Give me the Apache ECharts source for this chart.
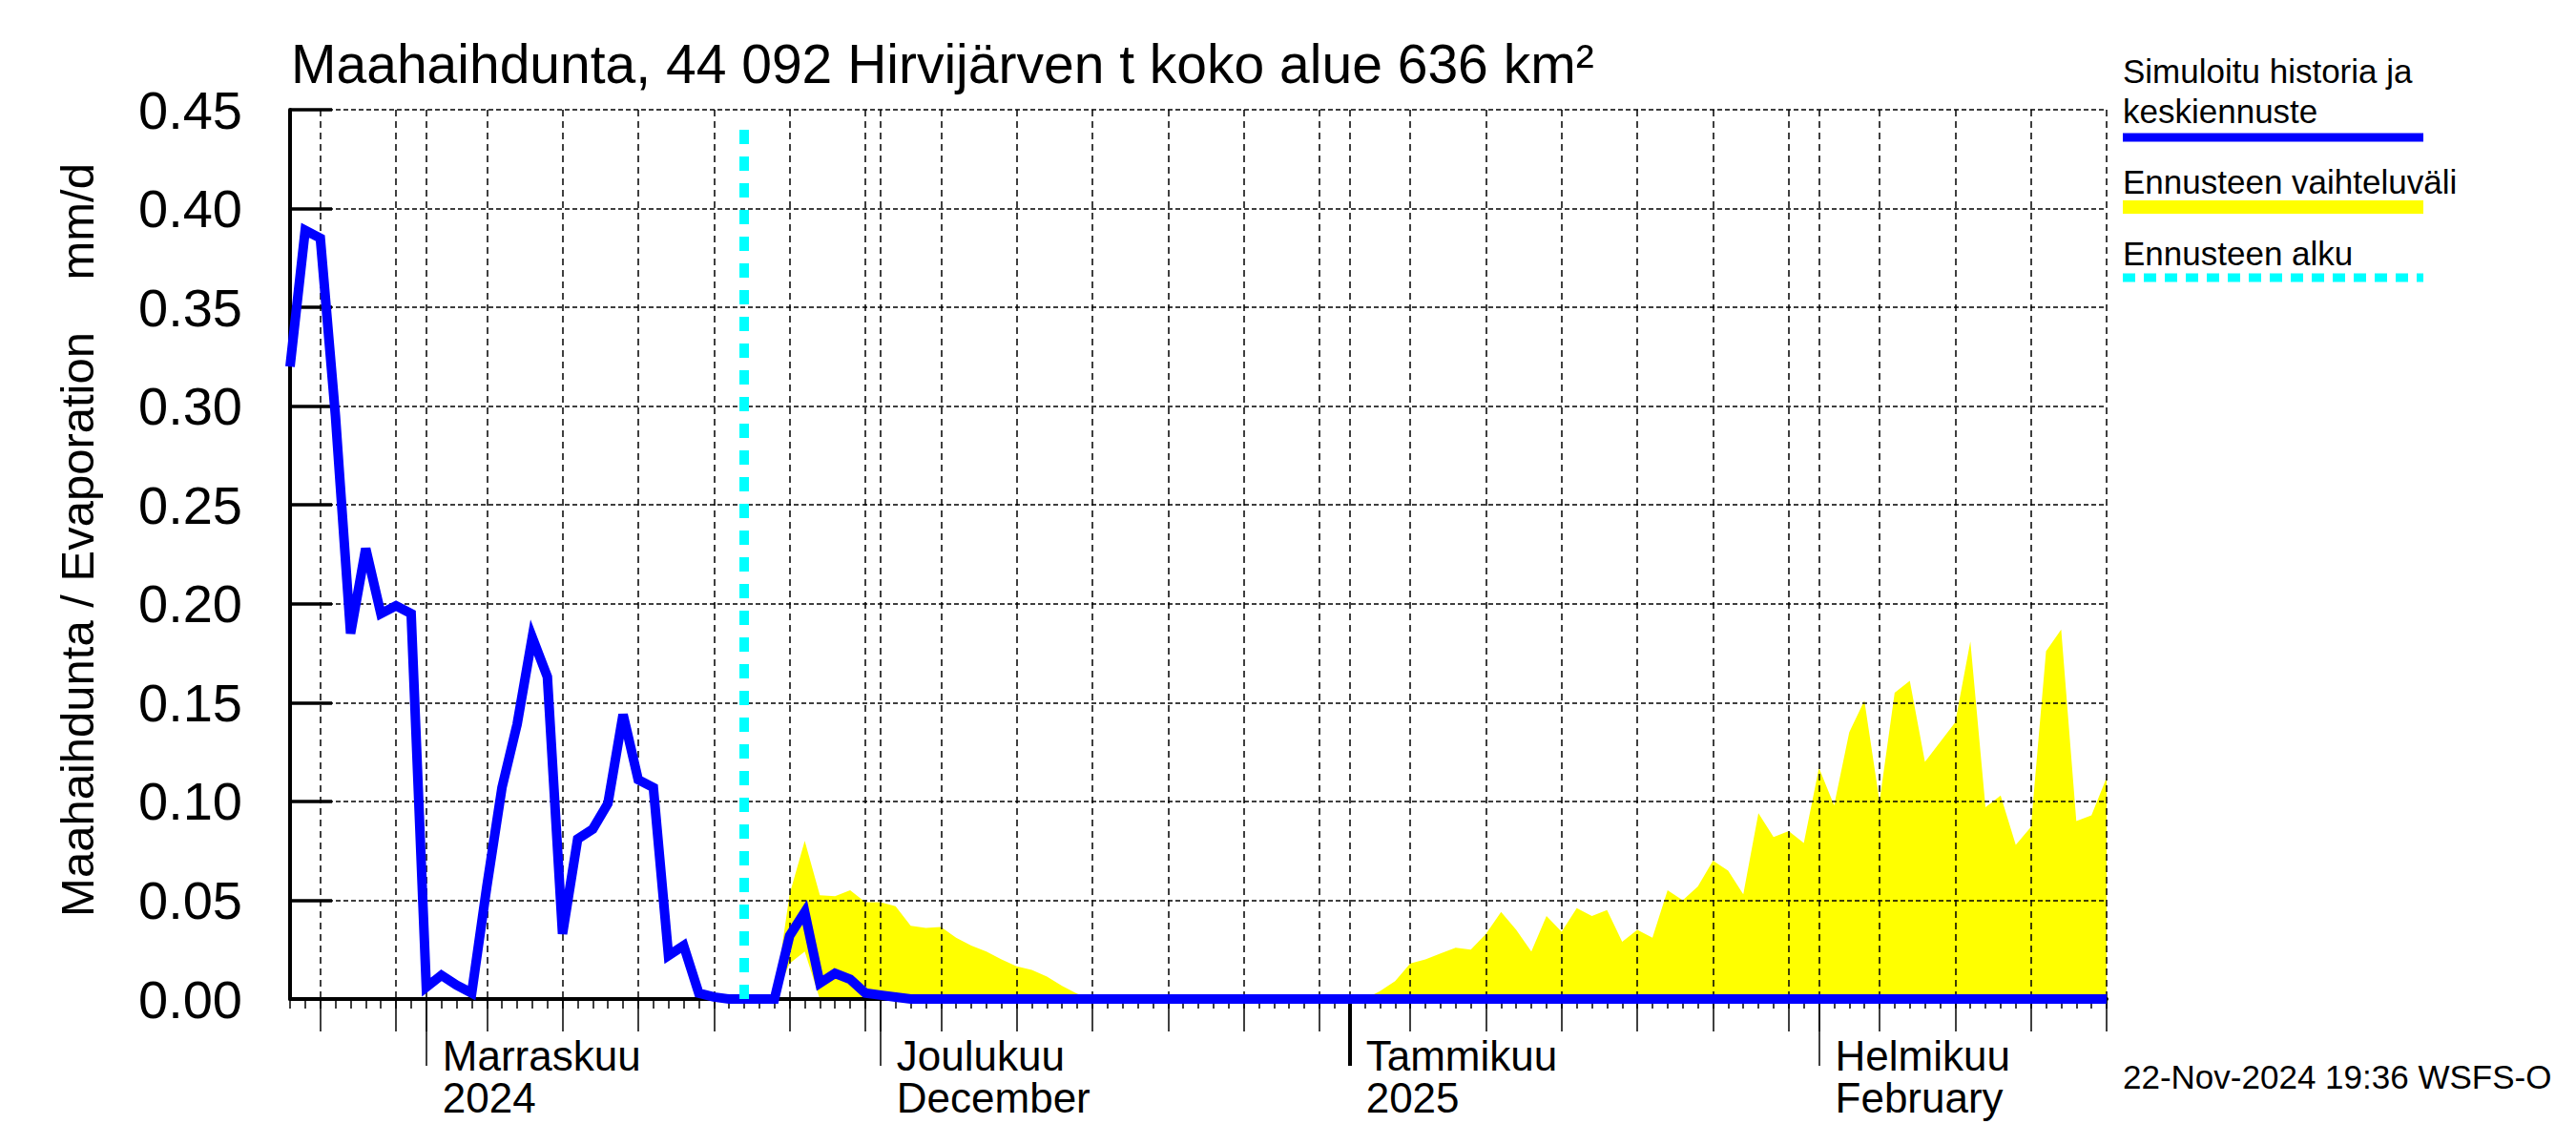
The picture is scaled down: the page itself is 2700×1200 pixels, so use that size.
<!DOCTYPE html>
<html>
<head>
<meta charset="utf-8">
<script src="https://cdn.jsdelivr.net/npm/echarts@6/dist/echarts.min.js"></script>
<style>
html,body{margin:0;padding:0;background:#fff;}
#chart{width:2700px;height:1200px;}
</style>
</head>
<body>
<div id="chart"></div>
<script>
// ---------------- data ----------------
const titleText = 'Maahaihdunta, 44 092 Hirvijärven t koko alue 636 km²';
const yAxisTitle = 'Maahaihdunta / Evaporation    mm/d';
const startDate = '2024-10-23';   // first day on the axis (day 0)
const endDate = '2025-02-20';     // last day on the axis
const forecastStart = '2024-11-22';
const stamp = '22-Nov-2024 19:36 WSFS-O';

// simulated history + median forecast, one value per day from startDate (d0..d120)
const evapValues = [
  0.320, 0.389, 0.385, 0.295, 0.185, 0.228, 0.195, 0.199, 0.195, 0.006,
  0.012, 0.007, 0.003, 0.057, 0.107, 0.139, 0.183, 0.163, 0.033, 0.081,
  0.086, 0.099, 0.144, 0.111, 0.107, 0.022, 0.027, 0.003, 0.001, 0.000,
  0.000, 0.000, 0.000, 0.032, 0.044, 0.008, 0.013, 0.010, 0.003, 0.002,
  0.001, 0.000, 0.000, 0.000, 0.000, 0.000, 0.000, 0.000, 0.000, 0.000,
  0.000, 0.000, 0.000, 0.000, 0.000, 0.000, 0.000, 0.000, 0.000, 0.000,
  0.000, 0.000, 0.000, 0.000, 0.000, 0.000, 0.000, 0.000, 0.000, 0.000,
  0.000, 0.000, 0.000, 0.000, 0.000, 0.000, 0.000, 0.000, 0.000, 0.000,
  0.000, 0.000, 0.000, 0.000, 0.000, 0.000, 0.000, 0.000, 0.000, 0.000,
  0.000, 0.000, 0.000, 0.000, 0.000, 0.000, 0.000, 0.000, 0.000, 0.000,
  0.000, 0.000, 0.000, 0.000, 0.000, 0.000, 0.000, 0.000, 0.000, 0.000,
  0.000, 0.000, 0.000, 0.000, 0.000, 0.000, 0.000, 0.000, 0.000, 0.000,
  0.000
];

// forecast range, one value per day from forecastStart (d30..d120)
const bandLower = [
  0.000, 0.000, 0.000, 0.018, 0.024, 0.000, 0.000, 0.000, 0.000, 0.000,
  0.000, 0.000, 0.000, 0.000, 0.000, 0.000, 0.000, 0.000, 0.000, 0.000,
  0.000, 0.000, 0.000, 0.000, 0.000, 0.000, 0.000, 0.000, 0.000, 0.000,
  0.000, 0.000, 0.000, 0.000, 0.000, 0.000, 0.000, 0.000, 0.000, 0.000,
  0.000, 0.000, 0.000, 0.000, 0.000, 0.000, 0.000, 0.000, 0.000, 0.000,
  0.000, 0.000, 0.000, 0.000, 0.000, 0.000, 0.000, 0.000, 0.000, 0.000,
  0.000, 0.000, 0.000, 0.000, 0.000, 0.000, 0.000, 0.000, 0.000, 0.000,
  0.000, 0.000, 0.000, 0.000, 0.000, 0.000, 0.000, 0.000, 0.000, 0.000,
  0.000, 0.000, 0.000, 0.000, 0.000, 0.000, 0.000, 0.000, 0.000, 0.000,
  0.000
];
const bandUpper = [
  0.000, 0.000, 0.000, 0.053, 0.080, 0.0525, 0.052, 0.055, 0.049, 0.049,
  0.047, 0.037, 0.036, 0.0365, 0.031, 0.027, 0.024, 0.020, 0.0165, 0.0147,
  0.0114, 0.0066, 0.0026, 0.000, 0.000, 0.000, 0.000, 0.000, 0.000, 0.000,
  0.000, 0.000, 0.000, 0.000, 0.000, 0.000, 0.000, 0.000, 0.000, 0.000,
  0.000, 0.000, 0.004, 0.009, 0.018, 0.020, 0.023, 0.026, 0.025, 0.033,
  0.044, 0.035, 0.024, 0.042, 0.034, 0.046, 0.042, 0.045, 0.029, 0.035,
  0.031, 0.055, 0.050, 0.057, 0.070, 0.065, 0.053, 0.094, 0.082, 0.085,
  0.079, 0.117, 0.098, 0.135, 0.151, 0.100, 0.155, 0.161, 0.120, 0.130,
  0.140, 0.181, 0.097, 0.103, 0.078, 0.087, 0.176, 0.187, 0.090, 0.093,
  0.112
];

// axis ticks
const monthTickDates = ['2024-11-01', '2024-12-01', '2025-01-01', '2025-02-01'];
const monthTickLabels = ['Marraskuu\n2024', 'Joulukuu\nDecember', 'Tammikuu\n2025', 'Helmikuu\nFebruary'];
const yearTickDates = ['2025-01-01'];
const fiveDayTickDates = [
  '2024-10-25', '2024-10-30', '2024-11-05', '2024-11-10', '2024-11-15', '2024-11-20',
  '2024-11-25', '2024-11-30', '2024-12-05', '2024-12-10', '2024-12-15', '2024-12-20',
  '2024-12-25', '2024-12-30', '2025-01-05', '2025-01-10', '2025-01-15', '2025-01-20',
  '2025-01-25', '2025-01-30', '2025-02-05', '2025-02-10', '2025-02-15', '2025-02-20'
];
const yTicks = { min: 0, max: 0.45, step: 0.05 };

const legendNames = ['Simuloitu historia ja keskiennuste', 'Ennusteen vaihteluväli', 'Ennusteen alku'];

// ---------------- helpers ----------------
const DAY = 86400000;
function ts(s) { const p = s.split('-').map(Number); return Date.UTC(p[0], p[1] - 1, p[2]); }
const t0 = ts(startDate), tEnd = ts(endDate), tFc = ts(forecastStart);

const evapData = evapValues.map((v, i) => [t0 + i * DAY, v]);
const bandTable = bandUpper.map((v, i) => [tFc + i * DAY, bandLower[i], v]);
const fcLineData = [[tFc, 0], [tFc, 0.445]];

const monthVals = monthTickDates.map(ts);
const fiveVals = fiveDayTickDates.map(ts);
const labelMap = {};
monthVals.forEach((v, i) => { labelMap[v] = monthTickLabels[i]; });

const FONT = '"Liberation Sans", Arial, Helvetica, sans-serif';
const gridBox = { left: 304, right: 492, top: 115, bottom: 153 };

function baseX(extra) {
  return Object.assign({
    type: 'value', min: t0, max: tEnd, position: 'bottom', z: 2,
    axisLine: { show: false },
    axisLabel: { show: false },
    splitLine: { show: false },
    axisTick: { show: false }
  }, extra);
}

function textEl(x, y, text, size, align) {
  return {
    type: 'text', x: x, y: y, z: 10,
    style: { text: text, font: size + 'px ' + FONT, fill: '#000', align: align || 'left', verticalAlign: 'middle', textAlign: align || 'left', textVerticalAlign: 'middle' }
  };
}

const option = {
  animation: false,
  backgroundColor: '#ffffff',
  title: {
    text: titleText, left: 305, top: 38, padding: 0,
    textStyle: { fontFamily: FONT, fontSize: 57, fontWeight: 'normal', color: '#000' }
  },
  grid: Object.assign({ containLabel: false }, gridBox),
  xAxis: [
    // daily minor ticks + axis line
    baseX({
      interval: DAY,
      axisLine: { show: true, lineStyle: { color: '#000', width: 4 } },
      axisTick: { show: true, inside: false, length: 10, lineStyle: { color: '#000', width: 1.5 } }
    }),
    // five-day ticks + vertical grid lines
    baseX({
      axisTick: { show: true, inside: false, length: 34, customValues: fiveVals.concat(monthVals), lineStyle: { color: '#000', width: 1.5 } },
      axisLabel: { show: false, customValues: fiveVals.concat(monthVals) },
      splitLine: { show: true, lineStyle: { color: '#000', width: 1.5, type: [7, 5] } }
    }),
    // month ticks + labels
    baseX({
      axisTick: { show: true, inside: false, length: 70, customValues: monthVals, lineStyle: { color: '#000', width: 1.5 } },
      axisLabel: {
        show: true, customValues: monthVals, align: 'left', verticalAlign: 'top',
        margin: 37, padding: [0, 0, 0, 17], lineHeight: 44,
        fontFamily: FONT, fontSize: 44, color: '#000',
        formatter: v => labelMap[v] || ''
      }
    }),
    // year tick (thick)
    baseX({
      axisTick: { show: true, inside: false, length: 70, customValues: yearTickDates.map(ts), lineStyle: { color: '#000', width: 4 } }
    })
  ],
  yAxis: {
    type: 'value', min: yTicks.min, max: yTicks.max, interval: yTicks.step, z: 2,
    axisLine: { show: true, lineStyle: { color: '#000', width: 4 } },
    axisTick: { show: true, inside: true, length: 44, lineStyle: { color: '#000', width: 3.5 } },
    axisLabel: { margin: 50, fontFamily: FONT, fontSize: 56, color: '#000', formatter: v => v.toFixed(2) },
    splitLine: { show: true, lineStyle: { color: '#000', width: 1.5, type: [5, 3] } }
  },
  series: [
    {
      name: legendNames[1], type: 'custom', z: 1, silent: true,
      data: bandTable,
      encode: { x: 0, y: [1, 2] },
      renderItem: function (params, api) {
        if (params.dataIndex !== 0) return null;
        const pts = [];
        for (let i = 0; i < bandTable.length; i++) pts.push(api.coord([bandTable[i][0], bandTable[i][2]]));
        for (let i = bandTable.length - 1; i >= 0; i--) pts.push(api.coord([bandTable[i][0], bandTable[i][1]]));
        return { type: 'polygon', shape: { points: pts }, style: { fill: '#ffff00', stroke: null } };
      }
    },
    {
      name: legendNames[0], type: 'line', data: evapData, z: 3,
      symbol: 'none', lineStyle: { color: '#0000ff', width: 10, join: 'miter' }
    },
    {
      name: legendNames[2], type: 'line', data: fcLineData, z: 4,
      symbol: 'none', lineStyle: { color: '#00ffff', width: 10, type: [15, 13], cap: 'butt' }
    }
  ],
  graphic: [
    Object.assign(textEl(81, 566, yAxisTitle, 49, 'center'), { rotation: Math.PI / 2 }),
    textEl(2225, 74, 'Simuloitu historia ja', 35),
    textEl(2225, 116, 'keskiennuste', 35),
    { type: 'line', shape: { x1: 2225, y1: 144, x2: 2540, y2: 144 }, style: { stroke: '#0000ff', lineWidth: 9 } },
    textEl(2225, 190, legendNames[1], 35),
    { type: 'line', shape: { x1: 2225, y1: 217, x2: 2540, y2: 217 }, style: { stroke: '#ffff00', lineWidth: 14 } },
    textEl(2225, 265, legendNames[2], 35),
    { type: 'line', shape: { x1: 2225, y1: 291, x2: 2540, y2: 291 }, style: { stroke: '#00ffff', lineWidth: 9, lineDash: [13, 9] } },
    textEl(2225, 1128, stamp, 35)
  ]
};

const chart = echarts.init(document.getElementById('chart'), null, { renderer: 'svg', width: 2700, height: 1200 });
chart.setOption(option);
</script>
</body>
</html>
